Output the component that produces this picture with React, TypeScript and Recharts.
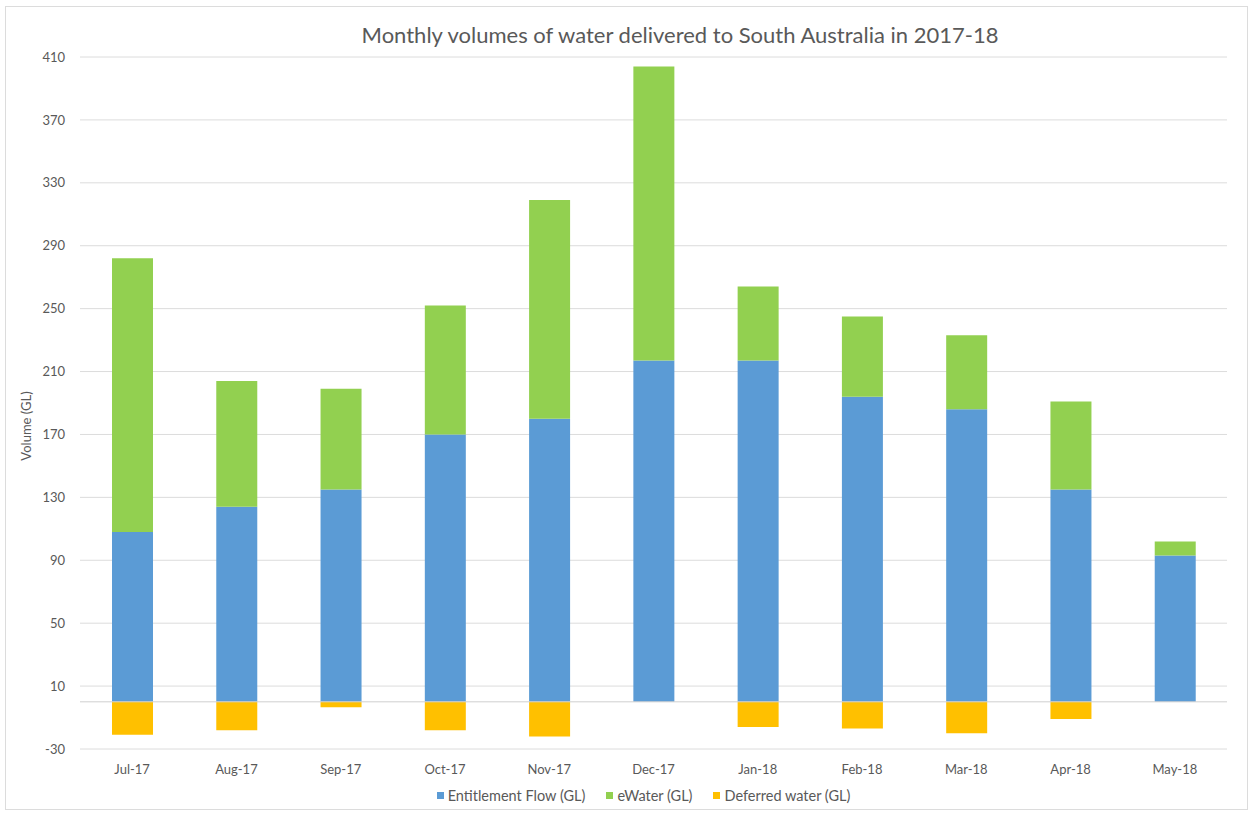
import React from 'react';
import { BarChart, Bar, XAxis, YAxis, CartesianGrid, Legend, ReferenceLine } from 'recharts';

const months = ['Jul-17', 'Aug-17', 'Sep-17', 'Oct-17', 'Nov-17', 'Dec-17', 'Jan-18', 'Feb-18', 'Mar-18', 'Apr-18', 'May-18'];
const entitlementFlow = [108, 124, 135, 170, 180, 217, 217, 194, 186, 135, 93];
const eWater = [174, 80, 64, 82, 139, 187, 47, 51, 47, 56, 9];
const deferredWater = [-21, -18, -3.5, -18, -22, 0, -16, -17, -20, -11, 0];
const yTicks = [-30, 10, 50, 90, 130, 170, 210, 250, 290, 330, 370, 410];
const seriesNames = ['Entitlement Flow (GL)', 'eWater (GL)', 'Deferred water (GL)'];
const seriesColors = ['#5B9BD5', '#92D050', '#FFC000'];

const data = months.map((m, i) => ({
  month: m,
  entitlement: entitlementFlow[i],
  ewater: eWater[i],
  deferred: deferredWater[i],
}));

const TEXT = '#595959';
const FONT = 'Lato, "Open Sans", sans-serif';

const YLabel = (props: any) => {
  const vb = props.viewBox || {};
  const x = 26;
  const y = vb.y + vb.height / 2 + 23;
  return (
    <text x={x} y={y} transform={`rotate(-90 ${x} ${y})`} textAnchor="middle" dominantBaseline="central" fill={TEXT} fontSize={13}>
      Volume (GL)
    </text>
  );
};

const LegendContent = (props: any) => {
  const payload: any[] = props.payload || [];
  const sorted = [...payload].sort((a, b) => seriesNames.indexOf(a.value) - seriesNames.indexOf(b.value));
  return (
    <div style={{ display: 'flex', justifyContent: 'center', alignItems: 'center', height: 20, fontSize: 14.5, color: TEXT }}>
      {sorted.map((item, i) => (
        <div key={item.value} style={{ display: 'flex', alignItems: 'center', marginLeft: i === 0 ? 0 : 21 }}>
          <span style={{ display: 'inline-block', width: 7, height: 7, background: item.color, marginRight: 4 }} />
          <span>{item.value}</span>
        </div>
      ))}
    </div>
  );
};

export default function App() {
  return (
    <div style={{ position: 'absolute', left: 0, top: 0, width: 1253, height: 816, background: '#fff', fontFamily: FONT }}>
      <div style={{ position: 'absolute', left: 5, top: 6, width: 1241, height: 802, border: '1px solid #dcdcdc' }} />
      <div style={{ position: 'absolute', left: 0, width: 1360, top: 21, textAlign: 'center', fontSize: 22, color: TEXT, lineHeight: '28px' }}>
        Monthly volumes of water delivered to South Australia in 2017-18
      </div>
      <div style={{ position: 'absolute', left: 0, top: 0 }}>
        <BarChart
          width={1253}
          height={816}
          data={data}
          stackOffset="sign"
          margin={{ top: 57, right: 26, bottom: 11, left: 20 }}
        >
          <CartesianGrid vertical={false} stroke="#dcdcdc" />
          <XAxis
            dataKey="month"
            axisLine={false}
            tickLine={false}
            height={36}
            tickMargin={10}
            tick={{ fill: TEXT, fontSize: 13 }}
          />
          <YAxis
            width={60}
            domain={[-30, 410]}
            ticks={yTicks}
            allowDataOverflow
            axisLine={false}
            tickLine={false}
            tickMargin={9}
            tick={{ fill: TEXT, fontSize: 13 }}
            label={<YLabel />}
          />
          <ReferenceLine y={0} stroke="#cfcfcf" />
          <Bar dataKey="entitlement" name={seriesNames[0]} stackId="a" fill={seriesColors[0]} barSize={41} isAnimationActive={false} />
          <Bar dataKey="ewater" name={seriesNames[1]} stackId="a" fill={seriesColors[1]} barSize={41} isAnimationActive={false} />
          <Bar dataKey="deferred" name={seriesNames[2]} stackId="a" fill={seriesColors[2]} barSize={41} isAnimationActive={false} />
          <Legend verticalAlign="bottom" height={20} wrapperStyle={{ left: 40 }} content={<LegendContent />} />
        </BarChart>
      </div>
    </div>
  );
}
